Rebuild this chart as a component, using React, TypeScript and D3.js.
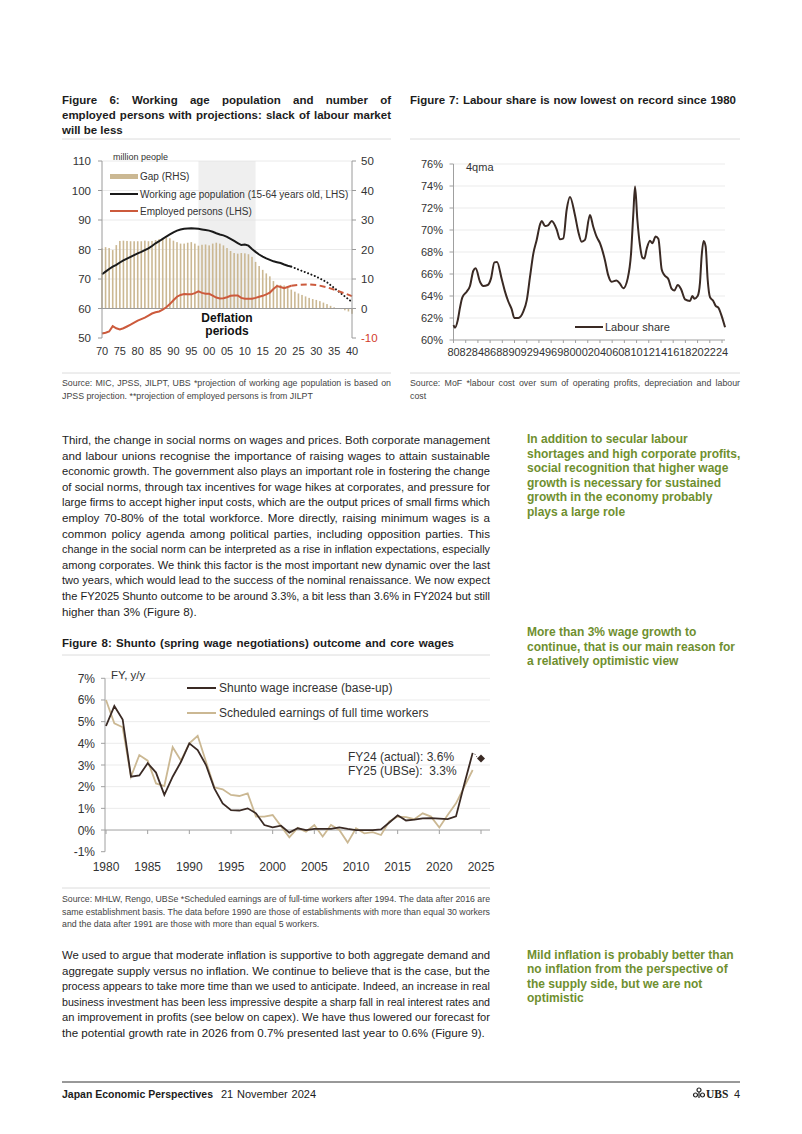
import React, { useLayoutEffect, useRef } from 'react';
import * as d3 from 'd3';

// ---------------- Figure 6 data ----------------
const years6 = d3.range(1970, 2041);
const gapRHS = [
  20.4, 20.8, 20.5, 19.8, 21.5, 22.9, 23.0, 22.9, 22.8, 22.8,
  22.8, 22.8, 23.0, 22.8, 22.9, 23.2, 23.5, 23.8, 24.2, 23.8,
  23.0, 22.5, 22.0, 22.0, 22.3, 22.5, 22.0, 21.3, 21.6, 21.7,
  21.4, 22.0, 22.3, 22.0, 21.4, 20.5, 19.5, 18.8, 18.6, 18.8,
  18.7, 18.4, 17.5, 15.8, 14.4, 13.1, 11.9, 10.9, 9.3, 8.1,
  8.0, 7.8, 7.0, 6.4, 5.7, 5.1, 4.6, 4.1, 3.6, 3.2,
  2.9, 2.5, 2.0, 1.5, 0.9, 0.4, 0.1, -0.2, -0.6, -1.0,
  -1.8,
];
const yearsActual6 = d3.range(1970, 2024);
const workingAge = [
  71.6, 72.5, 73.4, 74.2, 74.8, 75.6, 76.3, 76.9, 77.5, 78.1,
  78.7, 79.2, 79.8, 80.4, 81.2, 82.1, 82.8, 83.6, 84.4, 85.1,
  85.8, 86.4, 86.8, 87.0, 87.1, 87.2, 87.1, 87.0, 86.8, 86.6,
  86.4, 86.0, 85.5, 85.1, 84.8, 84.3, 83.6, 82.9, 82.2, 81.5,
  81.7, 81.3, 80.2, 79.2, 78.3, 77.6, 77.0, 76.5, 76.0, 75.7,
  75.4, 74.9, 74.5, 74.2,
];
const employed = [
  51.5, 51.8, 52.2, 54.0, 53.3, 52.9, 53.3, 53.9, 54.5, 55.2,
  55.9, 56.4, 56.9, 57.6, 58.3, 58.7, 59.0, 59.6, 60.4, 61.5,
  62.8, 64.0, 64.6, 64.9, 64.8, 64.8, 65.2, 65.8, 65.3, 65.0,
  65.0, 64.4, 63.7, 63.4, 63.5, 63.8, 64.3, 64.4, 64.4, 63.6,
  63.3, 63.3, 63.3, 63.6, 64.0, 64.3, 64.8, 65.4, 66.6, 67.6,
  67.3, 66.9, 67.3, 67.7,
];
const projYears6 = [2023, 2025, 2028, 2030, 2033, 2036, 2040];
const workingAgeProj = [74.2, 73.2, 71.8, 70.8, 68.9, 66.0, 62.2];
const employedProj = [67.7, 68.0, 68.2, 68.0, 67.2, 66.0, 64.2];
const leftTicks6 = [50, 60, 70, 80, 90, 100, 110];
const rightTicks6 = [-10, 0, 10, 20, 30, 40, 50];
const xTicks6 = [1970, 1975, 1980, 1985, 1990, 1995, 2000, 2005, 2010, 2015, 2020, 2025, 2030, 2035, 2040];
const deflation = [1997, 2013];

// ---------------- Figure 7 data ----------------
const lsYears = [
  1980.0, 1980.25, 1980.68, 1981.07, 1981.45, 1982.16, 1982.7, 1983.25, 1983.63, 1984.34,
  1984.89, 1985.6, 1986.15, 1986.7, 1987.13, 1987.9, 1988.44, 1988.98, 1989.53, 1989.97,
  1990.63, 1991.45, 1992.0, 1992.54, 1993.09, 1993.63, 1994.18, 1994.45, 1995.0, 1995.54,
  1996.09, 1996.9, 1997.45, 1998.0, 1998.54, 1999.09, 1999.9, 2000.45, 2001.0, 2001.54,
  2002.36, 2002.9, 2003.45, 2004.0, 2004.8, 2005.35, 2005.9, 2006.7, 2007.3, 2007.83,
  2008.55, 2009.1, 2009.47, 2009.75, 2010.12, 2010.56, 2010.94, 2011.27, 2011.66, 2012.2,
  2012.58, 2013.13, 2013.57, 2014.12, 2014.55, 2015.2, 2015.77, 2016.2, 2016.74, 2017.28,
  2017.94, 2018.76, 2019.14, 2019.47, 2020.01, 2020.39, 2020.66, 2020.99, 2021.32, 2021.65,
  2022.03, 2022.57, 2022.96, 2023.4, 2023.84, 2024.5,
];
const labourShare = [
  61.36, 61.12, 61.76, 62.97, 63.88, 64.39, 64.91, 66.3, 66.52, 65.3,
  64.91, 65.0, 65.6, 67.06, 67.1, 65.55, 64.4, 63.5, 62.8, 62.0,
  62.0, 62.6, 63.6, 65.76, 67.88, 69.1, 70.5, 70.82, 70.36, 70.45,
  70.82, 70.06, 69.15, 69.24, 71.82, 73.0, 71.36, 69.85, 68.94, 69.1,
  71.36, 70.3, 69.39, 68.8, 67.3, 65.9, 65.3, 65.4, 65.1, 64.7,
  65.6, 67.9, 71.5, 73.95, 71.0, 68.6, 67.5, 67.4, 68.3, 69.03,
  68.8, 69.4, 69.2, 66.4, 65.9, 65.55, 64.64, 64.5, 65.0, 64.64,
  63.7, 63.55, 64.0, 63.76, 64.0, 65.2, 67.6, 69.0, 68.5, 65.5,
  63.9, 63.55, 63.1, 62.95, 62.35, 61.15,
];
const yTicks7 = [60, 62, 64, 66, 68, 70, 72, 74, 76];
const xTicks7 = d3.range(1980, 2025, 2);

// ---------------- Figure 8 data ----------------
const years8 = d3.range(1980, 2025);
const shunto = [
  4.8, 5.72, 5.1, 2.46, 2.52, 3.08, 2.65, 1.62, 2.46, 3.15,
  4.0, 3.69, 3.0, 1.92, 1.23, 0.92, 0.9, 1.0, 0.77, 0.23,
  0.12, 0.2, -0.12, 0.08, 0.0, 0.05, 0.05, 0.05, 0.12, 0.05,
  0.0, 0.0, 0.0, 0.03, 0.35, 0.68, 0.44, 0.48, 0.54, 0.55,
  0.53, 0.5, 0.63, 2.12, 3.56,
];
const scheduled = [
  6.0, 4.92, 4.74, 2.46, 3.46, 3.2, 2.15, 2.03, 3.82, 3.2,
  4.0, 4.35, 3.15, 1.97, 1.88, 1.62, 1.57, 1.69, 0.62, 0.62,
  0.69, 0.18, -0.34, 0.1, -0.08, 0.23, -0.3, 0.23, 0.0, -0.58,
  0.08, -0.15, -0.1, -0.23, 0.4, 0.62, 0.6, 0.5, 0.77, 0.62,
  0.12, 0.69, 1.23, 2.0, 2.77,
];
const forecastYear = 2025;
const forecastValue = 3.3;
const yTicks8 = [-1, 0, 1, 2, 3, 4, 5, 6, 7];
const xTicks8 = [1980, 1985, 1990, 1995, 2000, 2005, 2010, 2015, 2020, 2025];

// ---------------- Text ----------------
const para1 = [
  'Third, the change in social norms on wages and prices. Both corporate management',
  'and labour unions recognise the importance of raising wages to attain sustainable',
  'economic growth. The government also plays an important role in fostering the change',
  'of social norms, through tax incentives for wage hikes at corporates, and pressure for',
  'large firms to accept higher input costs, which are the output prices of small firms which',
  'employ 70-80% of the total workforce. More directly, raising minimum wages is a',
  'common policy agenda among political parties, including opposition parties. This',
  'change in the social norm can be interpreted as a rise in inflation expectations, especially',
  'among corporates. We think this factor is the most important new dynamic over the last',
  'two years, which would lead to the success of the nominal renaissance. We now expect',
  'the FY2025 Shunto outcome to be around 3.3%, a bit less than 3.6% in FY2024 but still',
  'higher than 3% (Figure 8).',
];
const para2 = [
  'We used to argue that moderate inflation is supportive to both aggregate demand and',
  'aggregate supply versus no inflation. We continue to believe that is the case, but the',
  'process appears to take more time than we used to anticipate. Indeed, an increase in real',
  'business investment has been less impressive despite a sharp fall in real interest rates and',
  'an improvement in profits (see below on capex). We have thus lowered our forecast for',
  'the potential growth rate in 2026 from 0.7% presented last year to 0.6% (Figure 9).',
];
const note1 = [
  'In addition to secular labour',
  'shortages and high corporate profits,',
  'social recognition that higher wage',
  'growth is necessary for sustained',
  'growth in the economy probably',
  'plays a large role',
];
const note2 = ['More than 3% wage growth to', 'continue, that is our main reason for', 'a relatively optimistic view'];
const note3 = ['Mild inflation is probably better than', 'no inflation from the perspective of', 'the supply side, but we are not', 'optimistic'];

const FONT = "'Liberation Sans', Arial, sans-serif";
const GREEN = '#6f8f2f';
const TXT = '#1c1c1c';
const SRC = '#444';
const TAN = '#cbb893';
const DARK = '#3a2a24';
const RED = '#cc5a3c';

type BlockProps = {
  x: number; y: number; lh: number; lines: string[]; width?: number; size: number;
  weight?: number | string; fill?: string; justify?: boolean; justifyLast?: boolean; squeeze?: number;
};
function Block({ x, y, lh, lines, width = 0, size, weight = 400, fill = TXT, justify = true, justifyLast = false, squeeze = 0 }: BlockProps) {
  return (
    <g>
      {lines.map((s, i) => {
        const j = justify && (i < lines.length - 1 || justifyLast);
        return (
          <text key={i} x={x} y={y + i * lh} fontSize={size} fontWeight={weight} fill={fill}
            data-jw={j ? width : undefined} data-sq={!j && squeeze ? squeeze : undefined}
            style={{ whiteSpace: 'pre' }}>{s}</text>
        );
      })}
    </g>
  );
}

function Figure6() {
  const x = d3.scaleLinear().domain([1970, 2040]).range([102, 352]);
  const yL = d3.scaleLinear().domain([50, 110]).range([338, 161]);
  const yR = d3.scaleLinear().domain([-10, 50]).range([338, 161]);
  const line = d3.line<[number, number]>().x(d => x(d[0])).y(d => yL(d[1]));
  const wa = yearsActual6.map((yr, i) => [yr, workingAge[i]] as [number, number]);
  const em = yearsActual6.map((yr, i) => [yr, employed[i]] as [number, number]);
  const waP = projYears6.map((yr, i) => [yr, workingAgeProj[i]] as [number, number]);
  const emP = projYears6.map((yr, i) => [yr, employedProj[i]] as [number, number]);
  return (
    <g fontFamily={FONT}>
      <rect x={x(deflation[0])} y={yL(110)} width={x(deflation[1]) - x(deflation[0])} height={yR(0) - yL(110)} fill="#efefef" />
      {leftTicks6.filter(t => t > 60).map(t => (
        <line key={t} x1={x(1970)} x2={x(2040)} y1={yL(t)} y2={yL(t)} stroke="#e4e4e4" strokeWidth={0.8} />
      ))}
      {years6.map((yr, i) => {
        const v = gapRHS[i];
        return <rect key={yr} x={x(yr) - 0.8} width={1.6} y={yR(Math.max(0, v))} height={Math.abs(yR(v) - yR(0))} fill={TAN} />;
      })}
      <line x1={x(1970)} x2={x(2040)} y1={yR(0)} y2={yR(0)} stroke="#9a9a9a" strokeWidth={1} />
      <path d={line(wa) || ''} fill="none" stroke="#1a1a1a" strokeWidth={2} />
      <path d={line(waP) || ''} fill="none" stroke="#1a1a1a" strokeWidth={2} strokeDasharray="0.1,3.5" strokeLinecap="round" />
      <path d={line(em) || ''} fill="none" stroke={RED} strokeWidth={2} />
      <path d={line(emP) || ''} fill="none" stroke={RED} strokeWidth={2} strokeDasharray="6,3.5" />
      <line x1={x(1970)} x2={x(1970)} y1={yL(110)} y2={yL(50)} stroke="#9a9a9a" />
      <line x1={x(2040)} x2={x(2040)} y1={yR(50)} y2={yR(-10)} stroke="#9a9a9a" />
      {leftTicks6.map(t => (
        <g key={t}>
          <line x1={x(1970) - 4} x2={x(1970)} y1={yL(t)} y2={yL(t)} stroke="#9a9a9a" />
          <text x={91} y={yL(t) + 4} fontSize={11.5} textAnchor="end" fill="#333">{t}</text>
        </g>
      ))}
      {rightTicks6.map(t => (
        <g key={t}>
          <line x1={x(2040)} x2={x(2040) + 4} y1={yR(t)} y2={yR(t)} stroke="#9a9a9a" />
          <text x={361} y={yR(t) + 4} fontSize={11.5} fill={t < 0 ? '#d23b2a' : '#333'}>{t}</text>
        </g>
      ))}
      {xTicks6.map(t => (
        <text key={t} x={x(t)} y={355} fontSize={11} textAnchor="middle" fill="#333">{String(t).slice(2)}</text>
      ))}
      <text x={227} y={321.5} fontSize={12} fontWeight="bold" textAnchor="middle" fill="#111">Deflation</text>
      <text x={227} y={334.5} fontSize={12} fontWeight="bold" textAnchor="middle" fill="#111">periods</text>
      <text x={113} y={159.5} fontSize={9} fill="#333">million people</text>
      <rect x={110} y={174} width={28} height={5} fill={TAN} />
      <text x={140} y={180} fontSize={10} fill="#333">Gap (RHS)</text>
      <line x1={110} x2={138} y1={194} y2={194} stroke="#1a1a1a" strokeWidth={2} />
      <text x={140} y={197.5} fontSize={10} fill="#333">Working age population (15-64 years old, LHS)</text>
      <line x1={110} x2={138} y1={211} y2={211} stroke={RED} strokeWidth={2} />
      <text x={140} y={214.5} fontSize={10} fill="#333">Employed persons (LHS)</text>
    </g>
  );
}

function Figure7() {
  const x = d3.scaleLinear().domain([1980, 2024]).range([453.5, 722]);
  const y = d3.scaleLinear().domain([60, 76]).range([340, 164]);
  const line = d3.line<[number, number]>().x(d => x(d[0])).y(d => y(d[1])).curve(d3.curveMonotoneX);
  const pts = lsYears.map((yr, i) => [yr, labourShare[i]] as [number, number]);
  return (
    <g fontFamily={FONT}>
      {yTicks7.filter(t => t > 60).map(t => (
        <line key={t} x1={453.5} x2={725} y1={y(t)} y2={y(t)} stroke="#e6e6e6" strokeWidth={0.8} />
      ))}
      <line x1={453.5} x2={725} y1={y(60)} y2={y(60)} stroke="#a0a0a0" />
      <line x1={453.5} x2={453.5} y1={y(76)} y2={y(60)} stroke="#a0a0a0" />
      {yTicks7.map(t => (
        <g key={t}>
          <line x1={449.5} x2={453.5} y1={y(t)} y2={y(t)} stroke="#a0a0a0" />
          <text x={443} y={y(t) + 4} fontSize={11} textAnchor="end" fill="#333">{t}%</text>
        </g>
      ))}
      {xTicks7.map(t => (
        <g key={t}>
          <line x1={x(t)} x2={x(t)} y1={y(60)} y2={y(60) + 3} stroke="#a0a0a0" />
          <text x={x(t)} y={355.5} fontSize={11} textAnchor="middle" fill="#333">{String(t).slice(2)}</text>
        </g>
      ))}
      <path d={line(pts) || ''} fill="none" stroke={DARK} strokeWidth={2} />
      <text x={466} y={171} fontSize={11} fill="#333">4qma</text>
      <line x1={575} x2={603} y1={327} y2={327} stroke={DARK} strokeWidth={2} />
      <text x={605} y={331} fontSize={11} fill="#333">Labour share</text>
    </g>
  );
}

function Figure8() {
  const x = d3.scaleLinear().domain([1980, 2025]).range([106, 481]);
  const y = d3.scaleLinear().domain([-1, 7]).range([851.7, 678.3]);
  const line = d3.line<[number, number]>().x(d => x(d[0])).y(d => y(d[1]));
  const sh = years8.map((yr, i) => [yr, shunto[i]] as [number, number]);
  const sc = years8.map((yr, i) => [yr, scheduled[i]] as [number, number]);
  const last = sh[sh.length - 1];
  const dx = x(forecastYear), dy = y(forecastValue);
  return (
    <g fontFamily={FONT}>
      {yTicks8.filter(t => t > 0).map(t => (
        <line key={t} x1={105} x2={490} y1={y(t)} y2={y(t)} stroke="#e6e6e6" strokeWidth={0.8} />
      ))}
      <line x1={105} x2={490} y1={y(0)} y2={y(0)} stroke="#a0a0a0" />
      <line x1={105} x2={105} y1={y(7)} y2={y(-1)} stroke="#a0a0a0" />
      {yTicks8.map(t => (
        <g key={t}>
          <line x1={101} x2={105} y1={y(t)} y2={y(t)} stroke="#a0a0a0" />
          <text x={95} y={y(t) + 4.5} fontSize={12} textAnchor="end" fill="#333">{t}%</text>
        </g>
      ))}
      {xTicks8.map(t => (
        <g key={t}>
          <line x1={x(t)} x2={x(t)} y1={y(0)} y2={y(0) + 4} stroke="#a0a0a0" />
          <text x={x(t)} y={871} fontSize={12} textAnchor="middle" fill="#333">{t}</text>
        </g>
      ))}
      <path d={line(sc) || ''} fill="none" stroke={TAN} strokeWidth={1.8} />
      <path d={line(sh) || ''} fill="none" stroke={DARK} strokeWidth={1.8} />
      <line x1={x(last[0]) + 2} x2={dx - 3} y1={y(last[1]) + 1} y2={dy} stroke={DARK} strokeWidth={1} strokeDasharray="1,2" />
      <path d={`M${dx},${dy - 4}L${dx + 4},${dy}L${dx},${dy + 4}L${dx - 4},${dy}Z`} fill={DARK} />
      <text x={111} y={679} fontSize={11.5} fill="#333">FY, y/y</text>
      <line x1={187} x2={216} y1={688} y2={688} stroke={DARK} strokeWidth={2} />
      <text x={219} y={692} fontSize={12} fill="#333">Shunto wage increase (base-up)</text>
      <line x1={187} x2={216} y1={713} y2={713} stroke={TAN} strokeWidth={2} />
      <text x={219} y={717} fontSize={12} fill="#333">Scheduled earnings of full time workers</text>
      <text x={348} y={761} fontSize={12} fill="#333" style={{ whiteSpace: 'pre' }}>FY24 (actual): 3.6%</text>
      <text x={348} y={775} fontSize={12} fill="#333" style={{ whiteSpace: 'pre' }}>FY25 (UBSe):  3.3%</text>
    </g>
  );
}

export default function App() {
  const ref = useRef<SVGSVGElement>(null);
  useLayoutEffect(() => {
    const run = () => {
      const svg = ref.current;
      if (!svg) return;
      svg.querySelectorAll('text[data-jw]').forEach(el => {
        const t = el as SVGTextElement;
        t.style.wordSpacing = '0px';
        t.removeAttribute('textLength');
        t.removeAttribute('lengthAdjust');
        const W = parseFloat(t.getAttribute('data-jw') || '0');
        const L = t.getComputedTextLength();
        const k = ((t.textContent || '').match(/ /g) || []).length;
        if (W <= 0) return;
        if (L > W) {
          t.setAttribute('textLength', String(W));
          t.setAttribute('lengthAdjust', 'spacingAndGlyphs');
        } else if (k > 0) {
          t.style.wordSpacing = `${(W - L) / k}px`;
        }
      });
    };
    run();
    const fonts = (document as any).fonts;
    if (fonts && fonts.ready) fonts.ready.then(run);
  }, []);

  return (
    <svg ref={ref} width={802} height={1134} viewBox="0 0 802 1134"
      style={{ position: 'absolute', left: 0, top: 0, background: '#fff', fontFamily: FONT }}>
      <rect x={0} y={0} width={802} height={1134} fill="#fff" />
      <Block x={62} y={104} lh={15} size={11.5} weight="bold" width={329}
        lines={['Figure 6: Working age population and number of', 'employed persons with projections: slack of labour market', 'will be less']} />
      <Block x={410} y={104} lh={15} size={11.5} weight="bold" width={326} justifyLast
        lines={['Figure 7: Labour share is now lowest on record since 1980']} />
      <line x1={62} x2={391} y1={139} y2={139} stroke="#dcdcdc" />
      <line x1={410} x2={740} y1={139} y2={139} stroke="#dcdcdc" />
      <Figure6 />
      <Figure7 />
      <line x1={62} x2={391} y1={373} y2={373} stroke="#dcdcdc" />
      <line x1={410} x2={740} y1={373} y2={373} stroke="#dcdcdc" />
      <Block x={62} y={386} lh={12.5} size={8.8} fill={SRC} width={329}
        lines={['Source: MIC, JPSS, JILPT, UBS *projection of working age population is based on', 'JPSS projection. **projection of employed persons is from JILPT']} />
      <Block x={410} y={386} lh={12.5} size={8.8} fill={SRC} width={330}
        lines={['Source: MoF *labour cost over sum of operating profits, depreciation and labour', 'cost']} />

      <Block x={62} y={444} lh={15.6} size={11.6} width={428} lines={para1} />
      <Block x={527} y={443} lh={14.6} size={12} weight="bold" fill={GREEN} justify={false} lines={note1} />
      <Block x={527} y={636} lh={14.6} size={12} weight="bold" fill={GREEN} justify={false} lines={note2} />

      <Block x={62} y={647} lh={15} size={11.5} weight="bold" width={392} justifyLast
        lines={['Figure 8: Shunto (spring wage negotiations) outcome and core wages']} />
      <line x1={62} x2={490} y1={655} y2={655} stroke="#dcdcdc" />
      <Figure8 />
      <line x1={62} x2={490} y1={888} y2={888} stroke="#dcdcdc" />
      <Block x={62} y={902} lh={12.5} size={8.8} fill={SRC} width={428}
        lines={['Source: MHLW, Rengo, UBSe *Scheduled earnings are of full-time workers after 1994. The data after 2016 are', 'same establishment basis. The data before 1990 are those of establishments with more than equal 30 workers', 'and the data after 1991 are those with more than equal 5 workers.']} />

      <Block x={62} y={959} lh={15.6} size={11.6} width={428} lines={para2} />
      <Block x={527} y={959} lh={14.4} size={12} weight="bold" fill={GREEN} justify={false} lines={note3} />

      <line x1={62} x2={740} y1={1082} y2={1082} stroke="#333" strokeWidth={1} />
      <Block x={62} y={1098} lh={12} size={11.5} weight="bold" width={151} justifyLast lines={['Japan Economic Perspectives']} />
      <Block x={221} y={1098} lh={12} size={11} width={95} justifyLast lines={['21 November 2024']} />
      <g transform="translate(699,1093)" stroke="#222" strokeWidth={1.2} fill="none">
        <circle cx={0} cy={-3} r={2} />
        <circle cx={-3.5} cy={2} r={2} />
        <circle cx={3.5} cy={2} r={2} />
        <line x1={0} y1={-1} x2={0} y2={5} />
      </g>
      <text x={706} y={1098} fontSize={11.5} fontWeight="bold" fontFamily="'Liberation Serif', serif" fill="#222">UBS</text>
      <text x={734} y={1098} fontSize={11} fill="#222">4</text>
    </svg>
  );
}
